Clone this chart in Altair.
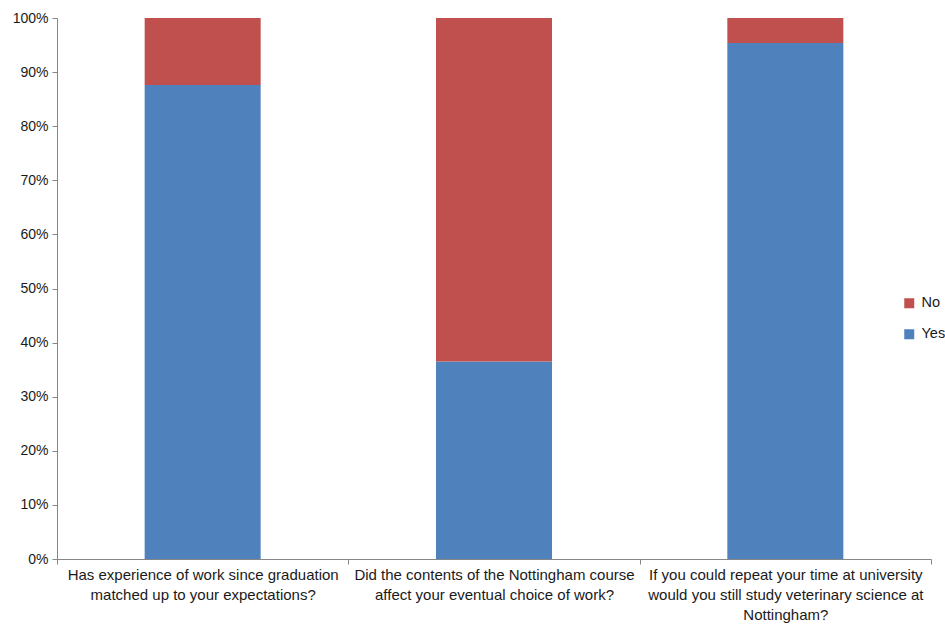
import altair as alt
import pandas as pd

categories = [
    "Has experience of work since graduation|matched up to your expectations?",
    "Did the contents of the Nottingham course|affect your eventual choice of work?",
    "If you could repeat your time at university|would you still study veterinary science at|Nottingham?",
]
yes_values = [87.6, 36.5, 95.4]
no_values = [12.4, 63.5, 4.6]
series = ["No", "Yes"]
colors = ["#C0504D", "#4F81BD"]

rows = []
for c, y, n in zip(categories, yes_values, no_values):
    rows.append({"cat": c, "resp": "Yes", "val": y / 100, "ord": 0})
    rows.append({"cat": c, "resp": "No", "val": n / 100, "ord": 1})
df = pd.DataFrame(rows)

font = "Liberation Sans"

chart = alt.Chart(df).mark_bar(size=116).encode(
    x=alt.X("cat:N", sort=categories, title=None,
            scale=alt.Scale(paddingInner=0, paddingOuter=0),
            axis=alt.Axis(labelAngle=0, labelExpr="split(datum.label, '|')",
                          labelLimit=400, labelFont=font, labelFontSize=15,
                          labelColor="#1a1a1a", labelLineHeight=20, labelPadding=3,
                          tickBand="extent", ticks=True, tickSize=5,
                          tickColor="#868686", domainColor="#868686",
                          labelBaseline="top")),
    y=alt.Y("val:Q", stack="zero", title=None,
            scale=alt.Scale(domain=[0, 1], nice=False),
            axis=alt.Axis(format=".0%", values=[i / 10 for i in range(11)],
                          grid=False, labelFont=font, labelFontSize=14,
                          labelColor="#1a1a1a", tickSize=5, labelPadding=4,
                          tickColor="#868686", domainColor="#868686")),
    color=alt.Color("resp:N", scale=alt.Scale(domain=series, range=colors),
                    legend=alt.Legend(title=None, orient="none", legendX=845, legendY=278,
                                      symbolType="square", symbolSize=100,
                                      symbolStrokeWidth=0,
                                      labelFont=font, labelFontSize=14.5,
                                      labelColor="#1a1a1a", rowPadding=16, labelOffset=5)),
    order=alt.Order("ord:Q", sort="ascending"),
).properties(
    width=874, height=541,
    background="white",
    autosize=alt.AutoSizeParams(type="none"),
    padding={"left": 57, "top": 18, "right": 14, "bottom": 69},
).configure_view(stroke=None)

chart.save("out.html", embed_options={"renderer": "svg", "actions": False})
